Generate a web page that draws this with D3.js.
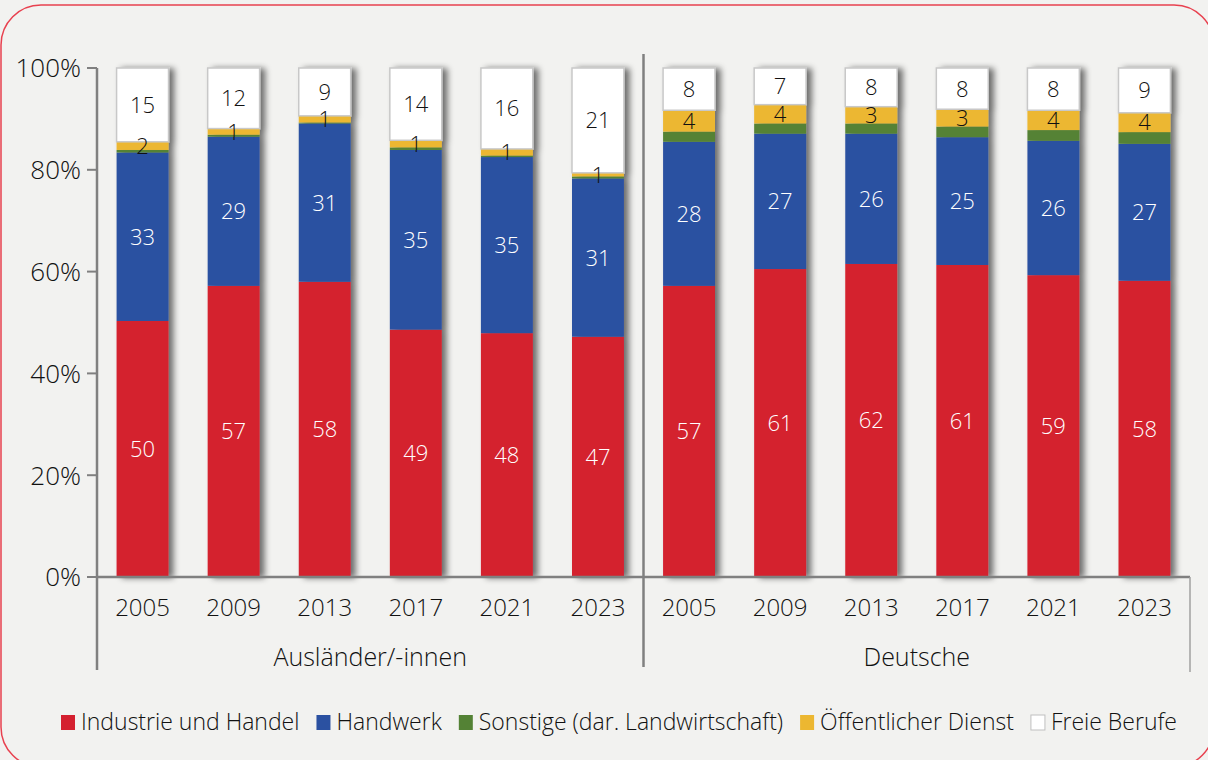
<!DOCTYPE html>
<html><head><meta charset="utf-8">
<script src="https://cdn.jsdelivr.net/npm/d3@7"></script>
<style>
html,body{margin:0;padding:0;background:#f2f2f0;}
svg{display:block;font-family:"Open Sans",Lato,sans-serif;font-weight:300;}
</style></head>
<body>
<svg id="c" width="1208" height="760"></svg>
<script>
const groups = ["Ausländer/-innen", "Deutsche"];
const years = ["2005", "2009", "2013", "2017", "2021", "2023"];
const seriesNames = ["Industrie und Handel", "Handwerk", "Sonstige (dar. Landwirtschaft)", "Öffentlicher Dienst", "Freie Berufe"];
const seriesColors = ["#d4202f", "#2b51a1", "#548235", "#ecb731", "#ffffff"];
const labelColors = ["#ffffff", "#ffffff", null, "#111111", "#111111"];
// values per group, per series, per year (percent)
const auslIndustrie = [50.3, 57.2, 58.0, 48.6, 47.9, 47.2];
const auslHandwerk  = [33.1, 29.3, 31.1, 35.3, 34.6, 31.1];
const auslSonstige  = [0.5, 0.4, 0.2, 0.5, 0.3, 0.4];
const auslOeffentl  = [1.6, 1.2, 1.3, 1.4, 1.3, 0.7];
const auslFreie     = [14.5, 11.9, 9.4, 14.2, 15.9, 20.6];
const deIndustrie   = [57.2, 60.5, 61.5, 61.3, 59.3, 58.2];
const deHandwerk    = [28.3, 26.6, 25.6, 25.1, 26.4, 26.9];
const deSonstige    = [2.0, 2.0, 2.0, 2.1, 2.1, 2.3];
const deOeffentl    = [4.2, 3.7, 3.3, 3.4, 3.9, 3.8];
const deFreie       = [8.3, 7.2, 7.6, 8.1, 8.3, 8.8];
const yTicks = [0, 20, 40, 60, 80, 100];

const groupSeries = [
  [auslIndustrie, auslHandwerk, auslSonstige, auslOeffentl, auslFreie],
  [deIndustrie, deHandwerk, deSonstige, deOeffentl, deFreie]
];

const rows = [];
groups.forEach((g, gi) => years.forEach((yr, yi) => {
  const r = {key: gi + "-" + yr, group: g, year: yr};
  seriesNames.forEach((s, si) => r[s] = groupSeries[gi][si][yi]);
  rows.push(r);
}));

const svg = d3.select("#c");
const pL = 97, pR = 1190, pT = 68, pB = 577;

svg.append("rect").attr("x", 1).attr("y", 5).attr("width", 1213).attr("height", 762)
  .attr("rx", 40).attr("ry", 40).attr("fill", "#f2f2f0").attr("stroke", "#e8414f").attr("stroke-width", 1.5);

const defs = svg.append("defs");
const f = defs.append("filter").attr("id", "sh").attr("x", "-20%").attr("y", "-10%").attr("width", "160%").attr("height", "120%");
f.append("feGaussianBlur").attr("in", "SourceAlpha").attr("stdDeviation", 3);
f.append("feOffset").attr("dx", 5).attr("dy", 1).attr("result", "o");
f.append("feComponentTransfer").append("feFuncA").attr("type", "linear").attr("slope", 0.55);
const m = f.append("feMerge");
m.append("feMergeNode");
m.append("feMergeNode").attr("in", "SourceGraphic");

const xS = d3.scaleBand().domain(rows.map(r => r.key)).range([pL, pR]).paddingInner(0.43).paddingOuter(0.215);
const yS = d3.scaleLinear().domain([0, 100]).range([pB, pT]);

const stacked = d3.stack().keys(seriesNames)(rows);

const barG = svg.append("g");
rows.forEach((r, ri) => {
  const g = barG.append("g").attr("filter", "url(#sh)");
  stacked.forEach((layer, si) => {
    const d = layer[ri];
    g.append("rect").attr("x", xS(r.key)).attr("width", xS.bandwidth())
      .attr("y", yS(d[1])).attr("height", Math.max(0, yS(d[0]) - yS(d[1])))
      .attr("fill", seriesColors[si])
      .attr("stroke", si === 4 ? "#c8c8c8" : "none").attr("stroke-width", si === 4 ? 1.5 : 0);
  });
});

const lblG = svg.append("g").attr("font-size", 22).attr("text-anchor", "middle");
stacked.forEach((layer, si) => {
  if (!labelColors[si]) return;
  layer.forEach((d, ri) => {
    lblG.append("text").attr("x", xS(rows[ri].key) + xS.bandwidth() / 2)
      .attr("y", (yS(d[0]) + yS(d[1])) / 2).attr("dy", "0.36em")
      .attr("fill", labelColors[si]).text(d3.format(".0f")(d[1] - d[0]));
  });
});

const axisColor = "#808080";
svg.append("line").attr("x1", pL).attr("x2", pL).attr("y1", pT).attr("y2", 670).attr("stroke", axisColor).attr("stroke-width", 2.5);
const yt = svg.append("g");
yTicks.forEach(t => {
  yt.append("line").attr("x1", 87).attr("x2", pL).attr("y1", yS(t)).attr("y2", yS(t)).attr("stroke", axisColor).attr("stroke-width", 2);
  yt.append("text").attr("x", 81).attr("y", yS(t)).attr("dy", "0.36em").attr("text-anchor", "end")
    .attr("font-size", 26).attr("fill", "#111").text(t + "%");
});
svg.append("line").attr("x1", pL).attr("x2", pR).attr("y1", pB).attr("y2", pB).attr("stroke", axisColor).attr("stroke-width", 2.5);
const sepX = (xS(rows[5].key) + xS.bandwidth() + xS(rows[6].key)) / 2;
svg.append("line").attr("x1", sepX).attr("x2", sepX).attr("y1", 54).attr("y2", 667).attr("stroke", axisColor).attr("stroke-width", 2.5);
svg.append("line").attr("x1", pR).attr("x2", pR).attr("y1", pB).attr("y2", 672).attr("stroke", "#a0a0a0").attr("stroke-width", 1.5);

const xt = svg.append("g").attr("text-anchor", "middle").attr("fill", "#111");
rows.forEach(r => xt.append("text").attr("font-size", 24).attr("x", xS(r.key) + xS.bandwidth() / 2).attr("y", 607).attr("dy", "0.36em").text(r.year));
groups.forEach((g, gi) => {
  const ks = rows.filter(r => r.group === g);
  const cxg = (xS(ks[0].key) + xS(ks[ks.length - 1].key) + xS.bandwidth()) / 2;
  xt.append("text").attr("font-size", 25).attr("x", cxg).attr("y", 657).attr("dy", "0.36em").text(g);
});

const leg = svg.append("g").attr("font-size", 23).attr("fill", "#111");
let cx = 0;
seriesNames.forEach((s, si) => {
  const it = leg.append("g");
  it.append("rect").attr("x", 0).attr("y", -7).attr("width", 14).attr("height", 15)
    .attr("fill", seriesColors[si]).attr("stroke", si === 4 ? "#c0c0c0" : "none");
  const t = it.append("text").attr("x", 20).attr("y", 0).attr("dy", "0.36em").text(s);
  const w = 20 + t.node().getComputedTextLength();
  it.attr("transform", `translate(${cx},722)`);
  cx += w + 17;
});
const total = cx - 17;
leg.attr("transform", `translate(${619 - total / 2},0)`);
</script>
</body></html>
